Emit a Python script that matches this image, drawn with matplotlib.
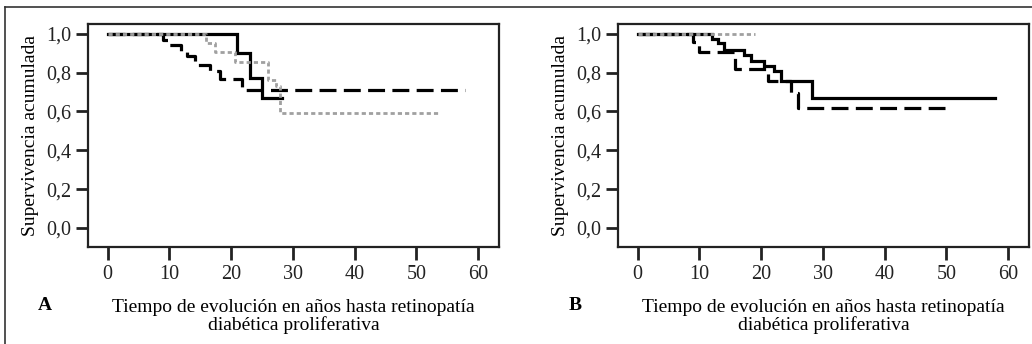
import matplotlib
matplotlib.use("Agg")
import matplotlib.pyplot as plt
from matplotlib.lines import Line2D

plt.rcParams['font.family'] = ['Liberation Serif', 'DejaVu Serif']

# Panel A - Kaplan-Meier curves (time in years, cumulative survival)
a_solid_t = [0, 21.0, 23.0, 25.0, 28.2]
a_solid_s = [1.0, 0.90, 0.77, 0.667, 0.667]
a_dash_t = [0, 9.0, 9.8, 11.9, 12.8, 14.1, 16.6, 18.2, 21.7, 57.9]
a_dash_s = [1.0, 0.97, 0.94, 0.91, 0.885, 0.84, 0.81, 0.766, 0.71, 0.71]
a_gray_t = [0, 16.0, 17.3, 20.6, 26.0, 27.3, 27.9, 53.8]
a_gray_s = [1.0, 0.95, 0.905, 0.856, 0.762, 0.73, 0.59, 0.59]

# Panel B
b_solid_t = [0, 12.0, 13.0, 14.0, 17.2, 18.4, 20.4, 22.0, 23.2, 28.3, 57.9]
b_solid_s = [1.0, 0.975, 0.95, 0.917, 0.888, 0.86, 0.835, 0.81, 0.757, 0.667, 0.667]
b_dash_t = [0, 9.0, 10.0, 15.7, 21.1, 24.9, 26.0, 49.8]
b_dash_s = [1.0, 0.955, 0.905, 0.818, 0.758, 0.697, 0.62, 0.62]
b_gray_t = [0, 19.0]
b_gray_s = [1.0, 1.0]

x_ticks = [0, 10, 20, 30, 40, 50, 60]
y_ticks = [0.0, 0.2, 0.4, 0.6, 0.8, 1.0]
y_labels = ['0,0', '0,2', '0,4', '0,6', '0,8', '1,0']

fig = plt.figure(figsize=(10.32, 3.44), dpi=100)

# outer frame (top and left edge visible)
fig.add_artist(Line2D([5/1032, 5/1032], [0, 1 - 7/344], color='#333333', lw=1.2))
fig.add_artist(Line2D([5/1032, 1], [1 - 7/344, 1 - 7/344], color='#333333', lw=1.2))

panels = [
    ('A', 88, (a_solid_t, a_solid_s), (a_dash_t, a_dash_s), (a_gray_t, a_gray_s)),
    ('B', 618, (b_solid_t, b_solid_s), (b_dash_t, b_dash_s), (b_gray_t, b_gray_s)),
]

for letter, left_px, solid, dash, gray in panels:
    ax = fig.add_axes([left_px/1032, 97/344, 411/1032, 223/344])

    # black solid, black long dash, gray short dash on top
    ax.step(solid[0], solid[1], where='post', color='black', lw=2.3,
            solid_joinstyle='miter')
    ax.step(dash[0], dash[1], where='post', color='black', lw=2.3,
            linestyle=(0, (5.3, 2.3)))
    ax.step(gray[0], gray[1], where='post', color='#a0a0a0', lw=2.0,
            linestyle=(0, (1.5, 1.1)))

    ax.set_xlim(-3.2, 63.4)
    ax.set_ylim(-0.098, 1.05)
    ax.set_xticks(x_ticks)
    ax.set_yticks(y_ticks)
    ax.set_yticklabels(y_labels)
    ax.tick_params(axis='both', direction='out', length=9, width=2,
                   labelsize=14.5, colors='#222222', pad=3)
    ax.tick_params(axis='x', pad=4)
    for sp in ax.spines.values():
        sp.set_linewidth(1.6)
        sp.set_color('#222222')

    ax.set_ylabel('Supervivencia acumulada', fontsize=14, labelpad=5)
    ax.set_xlabel('Tiempo de evolución en años hasta retinopatía\ndiabética proliferativa',
                  fontsize=14, linespacing=1.0, labelpad=10.5)
    fig.text((left_px - 43)/1032, 1 - 305/344, letter, fontsize=14,
             fontweight='bold', ha='center', va='center')

fig.savefig('out.png', dpi=100)
